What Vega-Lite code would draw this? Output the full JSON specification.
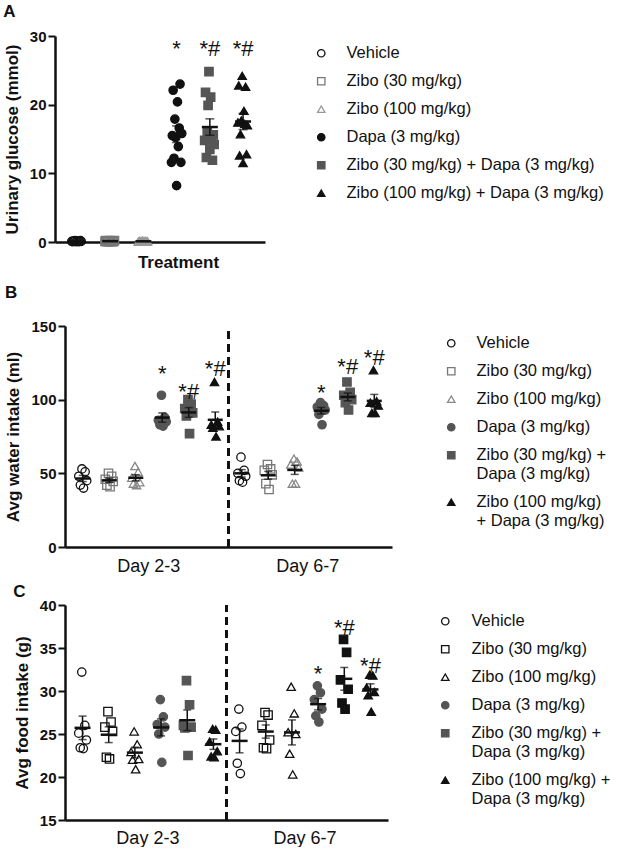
{
  "$schema": "https://vega.github.io/schema/vega-lite/v6.json",
  "background": "white",
  "padding": {"left": 3, "top": 3, "right": 0, "bottom": 0},
  "config": {
    "font": "Liberation Sans",
    "view": {"stroke": null},
    "axis": {"domainColor": "#111", "domainWidth": 2.5, "tickColor": "#111", "tickWidth": 2, "labelColor": "#111", "titleColor": "#111", "grid": false, "labelFont": "Liberation Sans", "titleFont": "Liberation Sans"},
    "axisY": {"labelFontSize": 15, "labelFontWeight": "bold", "titleFontSize": 17, "titleFontWeight": "bold", "tickSize": 7, "labelPadding": 2, "titlePadding": 8},
    "legend": {"labelFont": "Liberation Sans", "labelFontSize": 16.5, "labelColor": "#111", "symbolStrokeWidth": 1.3, "symbolSize": 55, "labelLimit": 400},
    "title": {"font": "Liberation Sans", "fontSize": 17, "fontWeight": "bold", "color": "#111", "anchor": "start", "frame": "bounds", "offset": 8}
  },
  "datasets": {
    "groups": [
      {"code": "V", "name": "Vehicle"},
      {"code": "Z30", "name": "Zibo (30 mg/kg)"},
      {"code": "Z100", "name": "Zibo (100 mg/kg)"},
      {"code": "D", "name": "Dapa (3 mg/kg)"},
      {"code": "Z30D", "name": "Zibo (30 mg/kg) + Dapa (3 mg/kg)"},
      {"code": "Z100D", "name": "Zibo (100 mg/kg) + Dapa (3 mg/kg)"}
    ],
    "glucose": [
      {"g": "V", "r": 1, "v": 0.1}, {"g": "V", "r": 2, "v": 0.05}, {"g": "V", "r": 3, "v": 0.15}, {"g": "V", "r": 4, "v": 0.1}, {"g": "V", "r": 5, "v": 0.2}, {"g": "V", "r": 6, "v": 0.05}, {"g": "V", "r": 7, "v": 0.1}, {"g": "V", "r": 8, "v": 0.15}, {"g": "V", "r": 9, "v": 0.05}, {"g": "V", "r": 10, "v": 0.1}, {"g": "V", "r": 11, "v": 0.2}, {"g": "V", "r": 12, "v": 0.1},
      {"g": "Z30", "r": 1, "v": 0.1}, {"g": "Z30", "r": 2, "v": 0.2}, {"g": "Z30", "r": 3, "v": 0.05}, {"g": "Z30", "r": 4, "v": 0.15}, {"g": "Z30", "r": 5, "v": 0.1}, {"g": "Z30", "r": 6, "v": 0.05}, {"g": "Z30", "r": 7, "v": 0.2}, {"g": "Z30", "r": 8, "v": 0.1}, {"g": "Z30", "r": 9, "v": 0.15}, {"g": "Z30", "r": 10, "v": 0.05}, {"g": "Z30", "r": 11, "v": 0.1}, {"g": "Z30", "r": 12, "v": 0.2},
      {"g": "Z100", "r": 1, "v": 0.05}, {"g": "Z100", "r": 2, "v": 0.1}, {"g": "Z100", "r": 3, "v": 0.15}, {"g": "Z100", "r": 4, "v": 0.05}, {"g": "Z100", "r": 5, "v": 0.1}, {"g": "Z100", "r": 6, "v": 0.2}, {"g": "Z100", "r": 7, "v": 0.1}, {"g": "Z100", "r": 8, "v": 0.05}, {"g": "Z100", "r": 9, "v": 0.15}, {"g": "Z100", "r": 10, "v": 0.1}, {"g": "Z100", "r": 11, "v": 0.05}, {"g": "Z100", "r": 12, "v": 0.1},
      {"g": "D", "r": 1, "v": 11.6}, {"g": "D", "r": 2, "v": 15.5}, {"g": "D", "r": 3, "v": 22.1}, {"g": "D", "r": 4, "v": 12.2}, {"g": "D", "r": 5, "v": 17.9}, {"g": "D", "r": 6, "v": 15.2}, {"g": "D", "r": 7, "v": 8.2}, {"g": "D", "r": 8, "v": 20.4}, {"g": "D", "r": 9, "v": 13.9}, {"g": "D", "r": 10, "v": 16.6}, {"g": "D", "r": 11, "v": 23.0}, {"g": "D", "r": 12, "v": 11.6}, {"g": "D", "r": 13, "v": 15.8},
      {"g": "Z30D", "r": 1, "v": 14.8}, {"g": "Z30D", "r": 2, "v": 21.8}, {"g": "Z30D", "r": 3, "v": 12.3}, {"g": "Z30D", "r": 4, "v": 16.0}, {"g": "Z30D", "r": 5, "v": 19.9}, {"g": "Z30D", "r": 6, "v": 24.8}, {"g": "Z30D", "r": 7, "v": 13.5}, {"g": "Z30D", "r": 8, "v": 21.1}, {"g": "Z30D", "r": 9, "v": 15.0}, {"g": "Z30D", "r": 10, "v": 11.9}, {"g": "Z30D", "r": 11, "v": 15.6}, {"g": "Z30D", "r": 12, "v": 14.2},
      {"g": "Z100D", "r": 1, "v": 17.4}, {"g": "Z100D", "r": 2, "v": 22.8}, {"g": "Z100D", "r": 3, "v": 12.6}, {"g": "Z100D", "r": 4, "v": 15.7}, {"g": "Z100D", "r": 5, "v": 17.7}, {"g": "Z100D", "r": 6, "v": 24.2}, {"g": "Z100D", "r": 7, "v": 11.5}, {"g": "Z100D", "r": 8, "v": 19.1}, {"g": "Z100D", "r": 9, "v": 17.2}, {"g": "Z100D", "r": 10, "v": 22.6}, {"g": "Z100D", "r": 11, "v": 12.8}, {"g": "Z100D", "r": 12, "v": 17.0}
    ],
    "glucoseSig": [
      {"g": "D", "v": 28.8, "label": "*"},
      {"g": "Z30D", "v": 28.8, "label": "*#"},
      {"g": "Z100D", "v": 28.8, "label": "*#"}
    ],
    "water": [
      {"d": "2-3", "g": "V", "r": 1, "v": 48}, {"d": "2-3", "g": "V", "r": 2, "v": 42}, {"d": "2-3", "g": "V", "r": 3, "v": 53}, {"d": "2-3", "g": "V", "r": 4, "v": 40}, {"d": "2-3", "g": "V", "r": 5, "v": 51}, {"d": "2-3", "g": "V", "r": 6, "v": 45},
      {"d": "2-3", "g": "Z30", "r": 1, "v": 46}, {"d": "2-3", "g": "Z30", "r": 2, "v": 42}, {"d": "2-3", "g": "Z30", "r": 3, "v": 50}, {"d": "2-3", "g": "Z30", "r": 4, "v": 41}, {"d": "2-3", "g": "Z30", "r": 5, "v": 48}, {"d": "2-3", "g": "Z30", "r": 6, "v": 44.5},
      {"d": "2-3", "g": "Z100", "r": 1, "v": 47}, {"d": "2-3", "g": "Z100", "r": 2, "v": 43}, {"d": "2-3", "g": "Z100", "r": 3, "v": 55}, {"d": "2-3", "g": "Z100", "r": 4, "v": 42}, {"d": "2-3", "g": "Z100", "r": 5, "v": 51}, {"d": "2-3", "g": "Z100", "r": 6, "v": 44},
      {"d": "2-3", "g": "D", "r": 1, "v": 86}, {"d": "2-3", "g": "D", "r": 2, "v": 83}, {"d": "2-3", "g": "D", "r": 3, "v": 103}, {"d": "2-3", "g": "D", "r": 4, "v": 82}, {"d": "2-3", "g": "D", "r": 5, "v": 88}, {"d": "2-3", "g": "D", "r": 6, "v": 85},
      {"d": "2-3", "g": "Z30D", "r": 1, "v": 94}, {"d": "2-3", "g": "Z30D", "r": 2, "v": 89}, {"d": "2-3", "g": "Z30D", "r": 3, "v": 100}, {"d": "2-3", "g": "Z30D", "r": 4, "v": 77}, {"d": "2-3", "g": "Z30D", "r": 5, "v": 97}, {"d": "2-3", "g": "Z30D", "r": 6, "v": 91},
      {"d": "2-3", "g": "Z100D", "r": 1, "v": 83}, {"d": "2-3", "g": "Z100D", "r": 2, "v": 81}, {"d": "2-3", "g": "Z100D", "r": 3, "v": 112}, {"d": "2-3", "g": "Z100D", "r": 4, "v": 75}, {"d": "2-3", "g": "Z100D", "r": 5, "v": 85}, {"d": "2-3", "g": "Z100D", "r": 6, "v": 82},
      {"d": "6-7", "g": "V", "r": 1, "v": 50}, {"d": "6-7", "g": "V", "r": 2, "v": 45}, {"d": "6-7", "g": "V", "r": 3, "v": 61}, {"d": "6-7", "g": "V", "r": 4, "v": 44}, {"d": "6-7", "g": "V", "r": 5, "v": 52}, {"d": "6-7", "g": "V", "r": 6, "v": 48},
      {"d": "6-7", "g": "Z30", "r": 1, "v": 52}, {"d": "6-7", "g": "Z30", "r": 2, "v": 43}, {"d": "6-7", "g": "Z30", "r": 3, "v": 56}, {"d": "6-7", "g": "Z30", "r": 4, "v": 39}, {"d": "6-7", "g": "Z30", "r": 5, "v": 53}, {"d": "6-7", "g": "Z30", "r": 6, "v": 49},
      {"d": "6-7", "g": "Z100", "r": 1, "v": 56}, {"d": "6-7", "g": "Z100", "r": 2, "v": 43}, {"d": "6-7", "g": "Z100", "r": 3, "v": 60}, {"d": "6-7", "g": "Z100", "r": 4, "v": 43}, {"d": "6-7", "g": "Z100", "r": 5, "v": 58}, {"d": "6-7", "g": "Z100", "r": 6, "v": 54},
      {"d": "6-7", "g": "D", "r": 1, "v": 95}, {"d": "6-7", "g": "D", "r": 2, "v": 90}, {"d": "6-7", "g": "D", "r": 3, "v": 98}, {"d": "6-7", "g": "D", "r": 4, "v": 83}, {"d": "6-7", "g": "D", "r": 5, "v": 96}, {"d": "6-7", "g": "D", "r": 6, "v": 93},
      {"d": "6-7", "g": "Z30D", "r": 1, "v": 103}, {"d": "6-7", "g": "Z30D", "r": 2, "v": 98}, {"d": "6-7", "g": "Z30D", "r": 3, "v": 112}, {"d": "6-7", "g": "Z30D", "r": 4, "v": 93}, {"d": "6-7", "g": "Z30D", "r": 5, "v": 105}, {"d": "6-7", "g": "Z30D", "r": 6, "v": 100},
      {"d": "6-7", "g": "Z100D", "r": 1, "v": 98}, {"d": "6-7", "g": "Z100D", "r": 2, "v": 91}, {"d": "6-7", "g": "Z100D", "r": 3, "v": 120}, {"d": "6-7", "g": "Z100D", "r": 4, "v": 91}, {"d": "6-7", "g": "Z100D", "r": 5, "v": 99}, {"d": "6-7", "g": "Z100D", "r": 6, "v": 96}
    ],
    "waterSig": [
      {"d": "2-3", "g": "D", "v": 120.8, "label": "*"},
      {"d": "2-3", "g": "Z30D", "v": 108.9, "label": "*#"},
      {"d": "2-3", "g": "Z100D", "v": 124.2, "label": "*#"},
      {"d": "6-7", "g": "D", "v": 107.7, "label": "*"},
      {"d": "6-7", "g": "Z30D", "v": 125.8, "label": "*#"},
      {"d": "6-7", "g": "Z100D", "v": 131.5, "label": "*#"}
    ],
    "food": [
      {"d": "2-3", "g": "V", "r": 1, "v": 25.1}, {"d": "2-3", "g": "V", "r": 2, "v": 23.4}, {"d": "2-3", "g": "V", "r": 3, "v": 32.2}, {"d": "2-3", "g": "V", "r": 4, "v": 23.3}, {"d": "2-3", "g": "V", "r": 5, "v": 26.0}, {"d": "2-3", "g": "V", "r": 6, "v": 24.3},
      {"d": "2-3", "g": "Z30", "r": 1, "v": 25.8}, {"d": "2-3", "g": "Z30", "r": 2, "v": 22.3}, {"d": "2-3", "g": "Z30", "r": 3, "v": 27.6}, {"d": "2-3", "g": "Z30", "r": 4, "v": 22.1}, {"d": "2-3", "g": "Z30", "r": 5, "v": 26.4}, {"d": "2-3", "g": "Z30", "r": 6, "v": 25.3},
      {"d": "2-3", "g": "Z100", "r": 1, "v": 22.9}, {"d": "2-3", "g": "Z100", "r": 2, "v": 22.0}, {"d": "2-3", "g": "Z100", "r": 3, "v": 25.3}, {"d": "2-3", "g": "Z100", "r": 4, "v": 20.9}, {"d": "2-3", "g": "Z100", "r": 5, "v": 23.8}, {"d": "2-3", "g": "Z100", "r": 6, "v": 22.1},
      {"d": "2-3", "g": "D", "r": 1, "v": 26.1}, {"d": "2-3", "g": "D", "r": 2, "v": 25.0}, {"d": "2-3", "g": "D", "r": 3, "v": 29.0}, {"d": "2-3", "g": "D", "r": 4, "v": 21.7}, {"d": "2-3", "g": "D", "r": 5, "v": 27.0}, {"d": "2-3", "g": "D", "r": 6, "v": 25.8},
      {"d": "2-3", "g": "Z30D", "r": 1, "v": 26.0}, {"d": "2-3", "g": "Z30D", "r": 2, "v": 25.7}, {"d": "2-3", "g": "Z30D", "r": 3, "v": 31.2}, {"d": "2-3", "g": "Z30D", "r": 4, "v": 22.5}, {"d": "2-3", "g": "Z30D", "r": 5, "v": 28.4}, {"d": "2-3", "g": "Z30D", "r": 6, "v": 25.8},
      {"d": "2-3", "g": "Z100D", "r": 1, "v": 24.1}, {"d": "2-3", "g": "Z100D", "r": 2, "v": 22.4}, {"d": "2-3", "g": "Z100D", "r": 3, "v": 25.6}, {"d": "2-3", "g": "Z100D", "r": 4, "v": 22.3}, {"d": "2-3", "g": "Z100D", "r": 5, "v": 25.5}, {"d": "2-3", "g": "Z100D", "r": 6, "v": 23.0},
      {"d": "6-7", "g": "V", "r": 1, "v": 25.3}, {"d": "6-7", "g": "V", "r": 2, "v": 21.6}, {"d": "6-7", "g": "V", "r": 3, "v": 27.9}, {"d": "6-7", "g": "V", "r": 4, "v": 20.4}, {"d": "6-7", "g": "V", "r": 5, "v": 25.8},
      {"d": "6-7", "g": "Z30", "r": 1, "v": 26.0}, {"d": "6-7", "g": "Z30", "r": 2, "v": 23.4}, {"d": "6-7", "g": "Z30", "r": 3, "v": 27.5}, {"d": "6-7", "g": "Z30", "r": 4, "v": 23.3}, {"d": "6-7", "g": "Z30", "r": 5, "v": 27.2}, {"d": "6-7", "g": "Z30", "r": 6, "v": 24.3},
      {"d": "6-7", "g": "Z100", "r": 1, "v": 25.2}, {"d": "6-7", "g": "Z100", "r": 2, "v": 22.7}, {"d": "6-7", "g": "Z100", "r": 3, "v": 30.5}, {"d": "6-7", "g": "Z100", "r": 4, "v": 20.3}, {"d": "6-7", "g": "Z100", "r": 5, "v": 27.4}, {"d": "6-7", "g": "Z100", "r": 6, "v": 25.0},
      {"d": "6-7", "g": "D", "r": 1, "v": 29.0}, {"d": "6-7", "g": "D", "r": 2, "v": 27.1}, {"d": "6-7", "g": "D", "r": 3, "v": 30.6}, {"d": "6-7", "g": "D", "r": 4, "v": 26.4}, {"d": "6-7", "g": "D", "r": 5, "v": 29.8}, {"d": "6-7", "g": "D", "r": 6, "v": 27.9},
      {"d": "6-7", "g": "Z30D", "r": 1, "v": 31.3}, {"d": "6-7", "g": "Z30D", "r": 2, "v": 28.6}, {"d": "6-7", "g": "Z30D", "r": 3, "v": 36.0}, {"d": "6-7", "g": "Z30D", "r": 4, "v": 27.9}, {"d": "6-7", "g": "Z30D", "r": 5, "v": 34.5}, {"d": "6-7", "g": "Z30D", "r": 6, "v": 30.2},
      {"d": "6-7", "g": "Z100D", "r": 1, "v": 30.4}, {"d": "6-7", "g": "Z100D", "r": 2, "v": 29.5}, {"d": "6-7", "g": "Z100D", "r": 3, "v": 31.9}, {"d": "6-7", "g": "Z100D", "r": 4, "v": 27.6}, {"d": "6-7", "g": "Z100D", "r": 5, "v": 31.8}, {"d": "6-7", "g": "Z100D", "r": 6, "v": 29.9}
    ],
    "foodSig": [
      {"d": "6-7", "g": "D", "v": 32.6, "label": "*"},
      {"d": "6-7", "g": "Z30D", "v": 37.9, "label": "*#"},
      {"d": "6-7", "g": "Z100D", "v": 33.5, "label": "*#"}
    ],
    "dayBoundary": [
      {"boundary": "2-3 Z100D"}
    ]
  },
  "resolve": {
    "scale": {"x": "independent", "y": "independent", "xOffset": "independent", "shape": "independent", "fill": "independent", "stroke": "independent"},
    "legend": {"shape": "independent", "fill": "independent", "stroke": "independent"}
  },
  "concat": [
    {
      "title": {"text": "A"},
      "width": 200,
      "height": 206,
      "data": {"name": "glucose"},
      "transform": [{"lookup": "g", "from": {"data": {"name": "groups"}, "key": "code", "fields": ["name"]}}],
      "layer": [
        {
          "mark": {"type": "point", "size": 70, "strokeWidth": 1.3, "opacity": 1},
          "encoding": {
            "x": {"field": "g", "type": "nominal", "scale": {"type": "band", "domain": ["V", "Z30", "Z100", "D", "Z30D", "Z100D"], "range": [-10, 200], "paddingInner": 0, "paddingOuter": 0.16}, "axis": {"labels": false, "ticks": false, "title": ["Treatment", " "], "titleLineHeight": 6, "titleFontSize": 17, "titleFontWeight": "bold", "titlePadding": 12, "titleX": 113}},
            "xOffset": {"field": "r", "type": "nominal", "scale": {"type": "band", "range": [11, 22.2]}},
            "y": {"field": "v", "type": "quantitative", "scale": {"domain": [0, 30], "nice": false, "zero": false, "padding": 0}, "axis": {"values": [0, 10, 20, 30], "title": "Urinary glucose (mmol)", "offset": 10}},
            "shape": {"field": "name", "type": "nominal", "scale": {"domain": ["Vehicle", "Zibo (30 mg/kg)", "Zibo (100 mg/kg)", "Dapa (3 mg/kg)", "Zibo (30 mg/kg) + Dapa (3 mg/kg)", "Zibo (100 mg/kg) + Dapa (3 mg/kg)"], "range": ["circle", "square", "triangle-up", "circle", "square", "triangle-up"]}, "legend": {"title": null, "orient": "none", "legendX": 248, "legendY": 9, "rowPadding": 11, "labelOffset": 17}},
            "fill": {"field": "name", "type": "nominal", "scale": {"domain": ["Vehicle", "Zibo (30 mg/kg)", "Zibo (100 mg/kg)", "Dapa (3 mg/kg)", "Zibo (30 mg/kg) + Dapa (3 mg/kg)", "Zibo (100 mg/kg) + Dapa (3 mg/kg)"], "range": ["transparent", "transparent", "transparent", "#111111", "#555555", "#111111"]}, "legend": {"title": null, "orient": "none", "legendX": 248, "legendY": 9, "rowPadding": 11, "labelOffset": 17}},
            "stroke": {"field": "name", "type": "nominal", "scale": {"domain": ["Vehicle", "Zibo (30 mg/kg)", "Zibo (100 mg/kg)", "Dapa (3 mg/kg)", "Zibo (30 mg/kg) + Dapa (3 mg/kg)", "Zibo (100 mg/kg) + Dapa (3 mg/kg)"], "range": ["#111111", "#777777", "#999999", "#111111", "#555555", "#111111"]}, "legend": {"title": null, "orient": "none", "legendX": 248, "legendY": 9, "rowPadding": 11, "labelOffset": 17}}
          }
        },
        {
          "mark": {"type": "errorbar", "extent": "stderr", "ticks": {"size": 9}, "thickness": 1.5, "color": "#111111"},
          "encoding": {
            "x": {"field": "g", "type": "nominal"},
            "y": {"field": "v", "type": "quantitative", "title": "Urinary glucose (mmol)"}
          }
        },
        {
          "mark": {"type": "tick", "size": 16, "thickness": 2.5, "color": "#111111"},
          "encoding": {
            "x": {"field": "g", "type": "nominal"},
            "y": {"aggregate": "mean", "field": "v", "type": "quantitative", "title": "Urinary glucose (mmol)"}
          }
        },
        {
          "data": {"name": "glucoseSig"},
          "mark": {"type": "text", "fontSize": 22, "dy": 5, "color": "#111111"},
          "encoding": {
            "x": {"field": "g", "type": "nominal"},
            "y": {"field": "v", "type": "quantitative", "title": "Urinary glucose (mmol)"},
            "text": {"field": "label"}
          }
        }
      ]
    },
    {
      "title": {"text": "B", "offset": 17},
      "width": 327,
      "height": 221,
      "data": {"name": "water"},
      "transform": [
        {"lookup": "g", "from": {"data": {"name": "groups"}, "key": "code", "fields": ["name"]}},
        {"calculate": "datum.d + ' ' + datum.g", "as": "slot"}
      ],
      "layer": [
        {
          "mark": {"type": "point", "size": 70, "strokeWidth": 1.3, "opacity": 1},
          "encoding": {
            "x": {"field": "slot", "type": "nominal", "scale": {"type": "band", "domain": ["2-3 V", "2-3 Z30", "2-3 Z100", "2-3 D", "2-3 Z30D", "2-3 Z100D", "6-7 V", "6-7 Z30", "6-7 Z100", "6-7 D", "6-7 Z30D", "6-7 Z100D"], "paddingInner": 0, "paddingOuter": 0.17}, "axis": {"title": null, "ticks": false, "labelAngle": 0, "labelAlign": "center", "labelOffset": 13, "labelExpr": "datum.value == '2-3 Z100' ? 'Day 2-3' : datum.value == '6-7 Z100' ? 'Day 6-7' : ''", "labelFontSize": 18, "labelPadding": 10}},
            "xOffset": {"field": "r", "type": "nominal", "scale": {"type": "band", "range": [8.5, 18]}},
            "y": {"field": "v", "type": "quantitative", "scale": {"domain": [0, 150], "nice": false, "zero": false, "padding": 0}, "axis": {"values": [0, 50, 100, 150], "title": "Avg water intake (ml)"}},
            "shape": {"field": "name", "type": "nominal", "scale": {"domain": ["Vehicle", "Zibo (30 mg/kg)", "Zibo (100 mg/kg)", "Dapa (3 mg/kg)", "Zibo (30 mg/kg) + Dapa (3 mg/kg)", "Zibo (100 mg/kg) + Dapa (3 mg/kg)"], "range": ["circle", "square", "triangle-up", "circle", "square", "triangle-up"]}, "legend": {"title": null, "orient": "none", "legendX": 378, "legendY": 9, "rowPadding": 11, "labelOffset": 17, "labelExpr": "datum.label == 'Zibo (30 mg/kg) + Dapa (3 mg/kg)' ? ['Zibo (30 mg/kg) +', 'Dapa (3 mg/kg)'] : datum.label == 'Zibo (100 mg/kg) + Dapa (3 mg/kg)' ? ['Zibo (100 mg/kg)', '+ Dapa (3 mg/kg)'] : datum.label"}},
            "fill": {"field": "name", "type": "nominal", "scale": {"domain": ["Vehicle", "Zibo (30 mg/kg)", "Zibo (100 mg/kg)", "Dapa (3 mg/kg)", "Zibo (30 mg/kg) + Dapa (3 mg/kg)", "Zibo (100 mg/kg) + Dapa (3 mg/kg)"], "range": ["transparent", "transparent", "transparent", "#555555", "#555555", "#111111"]}, "legend": {"title": null, "orient": "none", "legendX": 378, "legendY": 9, "rowPadding": 11, "labelOffset": 17, "labelExpr": "datum.label == 'Zibo (30 mg/kg) + Dapa (3 mg/kg)' ? ['Zibo (30 mg/kg) +', 'Dapa (3 mg/kg)'] : datum.label == 'Zibo (100 mg/kg) + Dapa (3 mg/kg)' ? ['Zibo (100 mg/kg)', '+ Dapa (3 mg/kg)'] : datum.label"}},
            "stroke": {"field": "name", "type": "nominal", "scale": {"domain": ["Vehicle", "Zibo (30 mg/kg)", "Zibo (100 mg/kg)", "Dapa (3 mg/kg)", "Zibo (30 mg/kg) + Dapa (3 mg/kg)", "Zibo (100 mg/kg) + Dapa (3 mg/kg)"], "range": ["#111111", "#777777", "#888888", "#555555", "#555555", "#111111"]}, "legend": {"title": null, "orient": "none", "legendX": 378, "legendY": 9, "rowPadding": 11, "labelOffset": 17, "labelExpr": "datum.label == 'Zibo (30 mg/kg) + Dapa (3 mg/kg)' ? ['Zibo (30 mg/kg) +', 'Dapa (3 mg/kg)'] : datum.label == 'Zibo (100 mg/kg) + Dapa (3 mg/kg)' ? ['Zibo (100 mg/kg)', '+ Dapa (3 mg/kg)'] : datum.label"}}
          }
        },
        {
          "data": {"name": "dayBoundary"},
          "mark": {"type": "rule", "strokeDash": [8, 5], "strokeWidth": 3, "color": "#111111"},
          "encoding": {
            "x": {"field": "boundary", "type": "nominal", "bandPosition": 1},
            "y": {"datum": 0, "type": "quantitative"},
            "y2": {"datum": 150}
          }
        },
        {
          "mark": {"type": "errorbar", "extent": "stderr", "ticks": {"size": 8}, "thickness": 1.5, "color": "#111111"},
          "encoding": {
            "x": {"field": "slot", "type": "nominal"},
            "y": {"field": "v", "type": "quantitative", "title": "Avg water intake (ml)"}
          }
        },
        {
          "mark": {"type": "tick", "size": 15, "thickness": 2.5, "color": "#111111"},
          "encoding": {
            "x": {"field": "slot", "type": "nominal"},
            "y": {"aggregate": "mean", "field": "v", "type": "quantitative", "title": "Avg water intake (ml)"}
          }
        },
        {
          "data": {"name": "waterSig"},
          "transform": [{"calculate": "datum.d + ' ' + datum.g", "as": "slot"}],
          "mark": {"type": "text", "fontSize": 22, "dy": 5, "color": "#111111"},
          "encoding": {
            "x": {"field": "slot", "type": "nominal"},
            "y": {"field": "v", "type": "quantitative", "title": "Avg water intake (ml)"},
            "text": {"field": "label"}
          }
        }
      ]
    },
    {
      "title": {"text": "C", "offset": -3},
      "width": 323,
      "height": 215,
      "data": {"name": "food"},
      "transform": [
        {"lookup": "g", "from": {"data": {"name": "groups"}, "key": "code", "fields": ["name"]}},
        {"calculate": "datum.d + ' ' + datum.g", "as": "slot"}
      ],
      "layer": [
        {
          "mark": {"type": "point", "size": 70, "strokeWidth": 1.3, "opacity": 1},
          "encoding": {
            "x": {"field": "slot", "type": "nominal", "scale": {"type": "band", "domain": ["2-3 V", "2-3 Z30", "2-3 Z100", "2-3 D", "2-3 Z30D", "2-3 Z100D", "6-7 V", "6-7 Z30", "6-7 Z100", "6-7 D", "6-7 Z30D", "6-7 Z100D"], "paddingInner": 0, "paddingOuter": 0.17}, "axis": {"title": null, "ticks": false, "labelAngle": 0, "labelAlign": "center", "labelOffset": 13, "labelExpr": "datum.value == '2-3 Z100' ? 'Day 2-3' : datum.value == '6-7 Z100' ? 'Day 6-7' : ''", "labelFontSize": 18, "labelPadding": 9}},
            "xOffset": {"field": "r", "type": "nominal", "scale": {"type": "band", "range": [8.5, 17.7]}},
            "y": {"field": "v", "type": "quantitative", "scale": {"domain": [15, 40], "nice": false, "zero": false, "padding": 0}, "axis": {"values": [15, 20, 25, 30, 35, 40], "title": "Avg food intake (g)"}},
            "shape": {"field": "name", "type": "nominal", "scale": {"domain": ["Vehicle", "Zibo (30 mg/kg)", "Zibo (100 mg/kg)", "Dapa (3 mg/kg)", "Zibo (30 mg/kg) + Dapa (3 mg/kg)", "Zibo (100 mg/kg) + Dapa (3 mg/kg)"], "range": ["circle", "square", "triangle-up", "circle", "square", "triangle-up"]}, "legend": {"title": null, "orient": "none", "legendX": 372, "legendY": 8, "rowPadding": 11, "labelOffset": 18, "labelExpr": "datum.label == 'Zibo (30 mg/kg) + Dapa (3 mg/kg)' ? ['Zibo (30 mg/kg) +', 'Dapa (3 mg/kg)'] : datum.label == 'Zibo (100 mg/kg) + Dapa (3 mg/kg)' ? ['Zibo (100 mg/kg) +', 'Dapa (3 mg/kg)'] : datum.label"}},
            "fill": {"condition": {"test": "datum.d == '6-7' && datum.g == 'Z30D'", "value": "#111111"}, "field": "name", "type": "nominal", "scale": {"domain": ["Vehicle", "Zibo (30 mg/kg)", "Zibo (100 mg/kg)", "Dapa (3 mg/kg)", "Zibo (30 mg/kg) + Dapa (3 mg/kg)", "Zibo (100 mg/kg) + Dapa (3 mg/kg)"], "range": ["transparent", "transparent", "transparent", "#555555", "#555555", "#111111"]}, "legend": {"title": null, "orient": "none", "legendX": 372, "legendY": 8, "rowPadding": 11, "labelOffset": 18, "labelExpr": "datum.label == 'Zibo (30 mg/kg) + Dapa (3 mg/kg)' ? ['Zibo (30 mg/kg) +', 'Dapa (3 mg/kg)'] : datum.label == 'Zibo (100 mg/kg) + Dapa (3 mg/kg)' ? ['Zibo (100 mg/kg) +', 'Dapa (3 mg/kg)'] : datum.label"}},
            "stroke": {"condition": {"test": "datum.d == '6-7' && datum.g == 'Z30D'", "value": "#111111"}, "field": "name", "type": "nominal", "scale": {"domain": ["Vehicle", "Zibo (30 mg/kg)", "Zibo (100 mg/kg)", "Dapa (3 mg/kg)", "Zibo (30 mg/kg) + Dapa (3 mg/kg)", "Zibo (100 mg/kg) + Dapa (3 mg/kg)"], "range": ["#111111", "#111111", "#111111", "#555555", "#555555", "#111111"]}, "legend": {"title": null, "orient": "none", "legendX": 372, "legendY": 8, "rowPadding": 11, "labelOffset": 18, "labelExpr": "datum.label == 'Zibo (30 mg/kg) + Dapa (3 mg/kg)' ? ['Zibo (30 mg/kg) +', 'Dapa (3 mg/kg)'] : datum.label == 'Zibo (100 mg/kg) + Dapa (3 mg/kg)' ? ['Zibo (100 mg/kg) +', 'Dapa (3 mg/kg)'] : datum.label"}}
          }
        },
        {
          "data": {"name": "dayBoundary"},
          "mark": {"type": "rule", "strokeDash": [8, 5], "strokeWidth": 3, "color": "#111111"},
          "encoding": {
            "x": {"field": "boundary", "type": "nominal", "bandPosition": 1},
            "y": {"datum": 15, "type": "quantitative"},
            "y2": {"datum": 40}
          }
        },
        {
          "mark": {"type": "errorbar", "extent": "stderr", "ticks": {"size": 8}, "thickness": 1.5, "color": "#111111"},
          "encoding": {
            "x": {"field": "slot", "type": "nominal"},
            "y": {"field": "v", "type": "quantitative", "title": "Avg food intake (g)"}
          }
        },
        {
          "mark": {"type": "tick", "size": 16, "thickness": 2.5, "color": "#111111"},
          "encoding": {
            "x": {"field": "slot", "type": "nominal"},
            "y": {"aggregate": "mean", "field": "v", "type": "quantitative", "title": "Avg food intake (g)"}
          }
        },
        {
          "data": {"name": "foodSig"},
          "transform": [{"calculate": "datum.d + ' ' + datum.g", "as": "slot"}],
          "mark": {"type": "text", "fontSize": 22, "dy": 5, "color": "#111111"},
          "encoding": {
            "x": {"field": "slot", "type": "nominal"},
            "y": {"field": "v", "type": "quantitative", "title": "Avg food intake (g)"},
            "text": {"field": "label"}
          }
        }
      ]
    }
  ],
  "columns": 1,
  "align": "none",
  "spacing": 8
}
